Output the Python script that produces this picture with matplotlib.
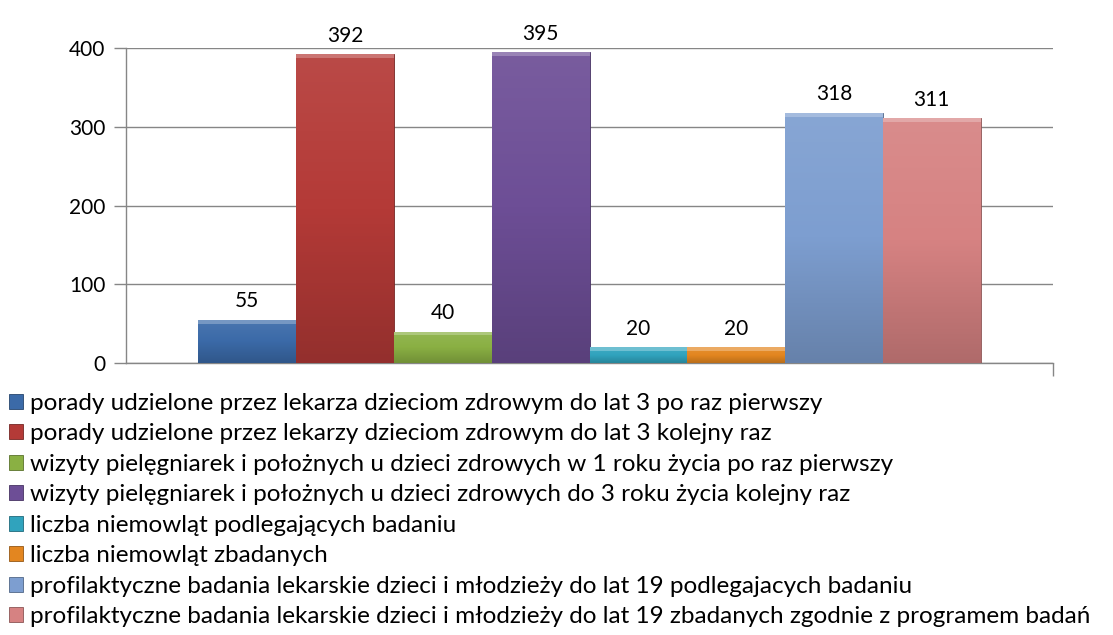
import matplotlib
matplotlib.use("Agg")
import matplotlib.pyplot as plt
import matplotlib.colors as mcolors
import numpy as np

plt.rcParams['font.family'] = ['Lato', 'DejaVu Sans']

labels = [
    "porady udzielone przez lekarza dzieciom zdrowym do lat 3 po raz pierwszy",
    "porady udzielone przez lekarzy dzieciom zdrowym do lat 3 kolejny raz",
    "wizyty pielęgniarek i położnych u dzieci zdrowych w 1 roku życia po raz pierwszy",
    "wizyty pielęgniarek i położnych u dzieci zdrowych do 3 roku życia kolejny raz",
    "liczba niemowląt podlegających badaniu",
    "liczba niemowląt zbadanych",
    "profilaktyczne badania lekarskie dzieci i młodzieży do lat 19 podlegajacych badaniu",
    "profilaktyczne badania lekarskie dzieci i młodzieży do lat 19 zbadanych zgodnie z programem badań",
]
values = [55, 392, 40, 395, 20, 20, 318, 311]
colors = ["#3b6aa8", "#b43a37", "#8ab043", "#6d4e96", "#30a3bd", "#e38620", "#7d9ed0", "#d68282"]
yticks = [0, 100, 200, 300, 400]


def shade(c, f):
    rgb = np.array(mcolors.to_rgb(c))
    if f > 0:
        return tuple(rgb + (1 - rgb) * f)
    return tuple(rgb * (1 + f))


fs = 15
fig = plt.figure(figsize=(11.13, 6.35), dpi=100)
ax = fig.add_axes([126/1113, 1-363/635, (1053-126)/1113, (363-48)/635])

w = 97.75 / 927
n = len(values)
xs = 0.5 + (np.arange(n) - (n-1)/2) * w
handles = []
for x, v, c in zip(xs, values, colors):
    b = ax.bar(x, v, width=w, color=c, edgecolor=shade(c, -0.35), linewidth=0.6, zorder=3)
    p = b[0]
    handles.append(p)
    # bevel-like vertical gradient, clipped to the bar
    cmap = mcolors.LinearSegmentedColormap.from_list("g", [shade(c, -0.18), c, shade(c, 0.08)])
    grad = np.linspace(0, 1, 100).reshape(-1, 1)
    im = ax.imshow(grad, cmap=cmap, aspect="auto", origin="lower",
                   extent=(x - w/2, x + w/2, 0, v), zorder=3.5)
    im.set_clip_path(p)
    # light top edge
    top = ax.bar(x, 5, bottom=v - 5, width=w, color=shade(c, 0.3),
                 linewidth=0, zorder=3.6)
    top[0].set_clip_path(p)
    ax.annotate(str(v), (x, v), xytext=(0, 6), textcoords="offset points",
                ha="center", va="bottom", fontsize=fs, color="#000000")

ax.set_xlim(0, 1)
ax.set_ylim(0, 400)
ax.set_yticks(yticks)
ax.tick_params(axis="y", labelsize=fs, length=9, width=1, color="#868686", pad=6)
ax.set_xticks([1])
ax.set_xticklabels([""])
ax.tick_params(axis="x", length=9, width=1, color="#868686")
ax.grid(axis="y", color="#868686", linewidth=1, zorder=0)
ax.set_axisbelow(True)
for s in ["top", "right"]:
    ax.spines[s].set_visible(False)
for s in ["left", "bottom"]:
    ax.spines[s].set_color("#868686")
    ax.spines[s].set_linewidth(1)

fig.legend(handles, labels, loc="upper left", bbox_to_anchor=(9/1113, 1-393/635),
           frameon=False, fontsize=17.5, handlelength=0.58, handleheight=0.58,
           handletextpad=0.3, labelspacing=0.39, borderaxespad=0, borderpad=0)

fig.savefig("out.png", dpi=100, facecolor="white")
